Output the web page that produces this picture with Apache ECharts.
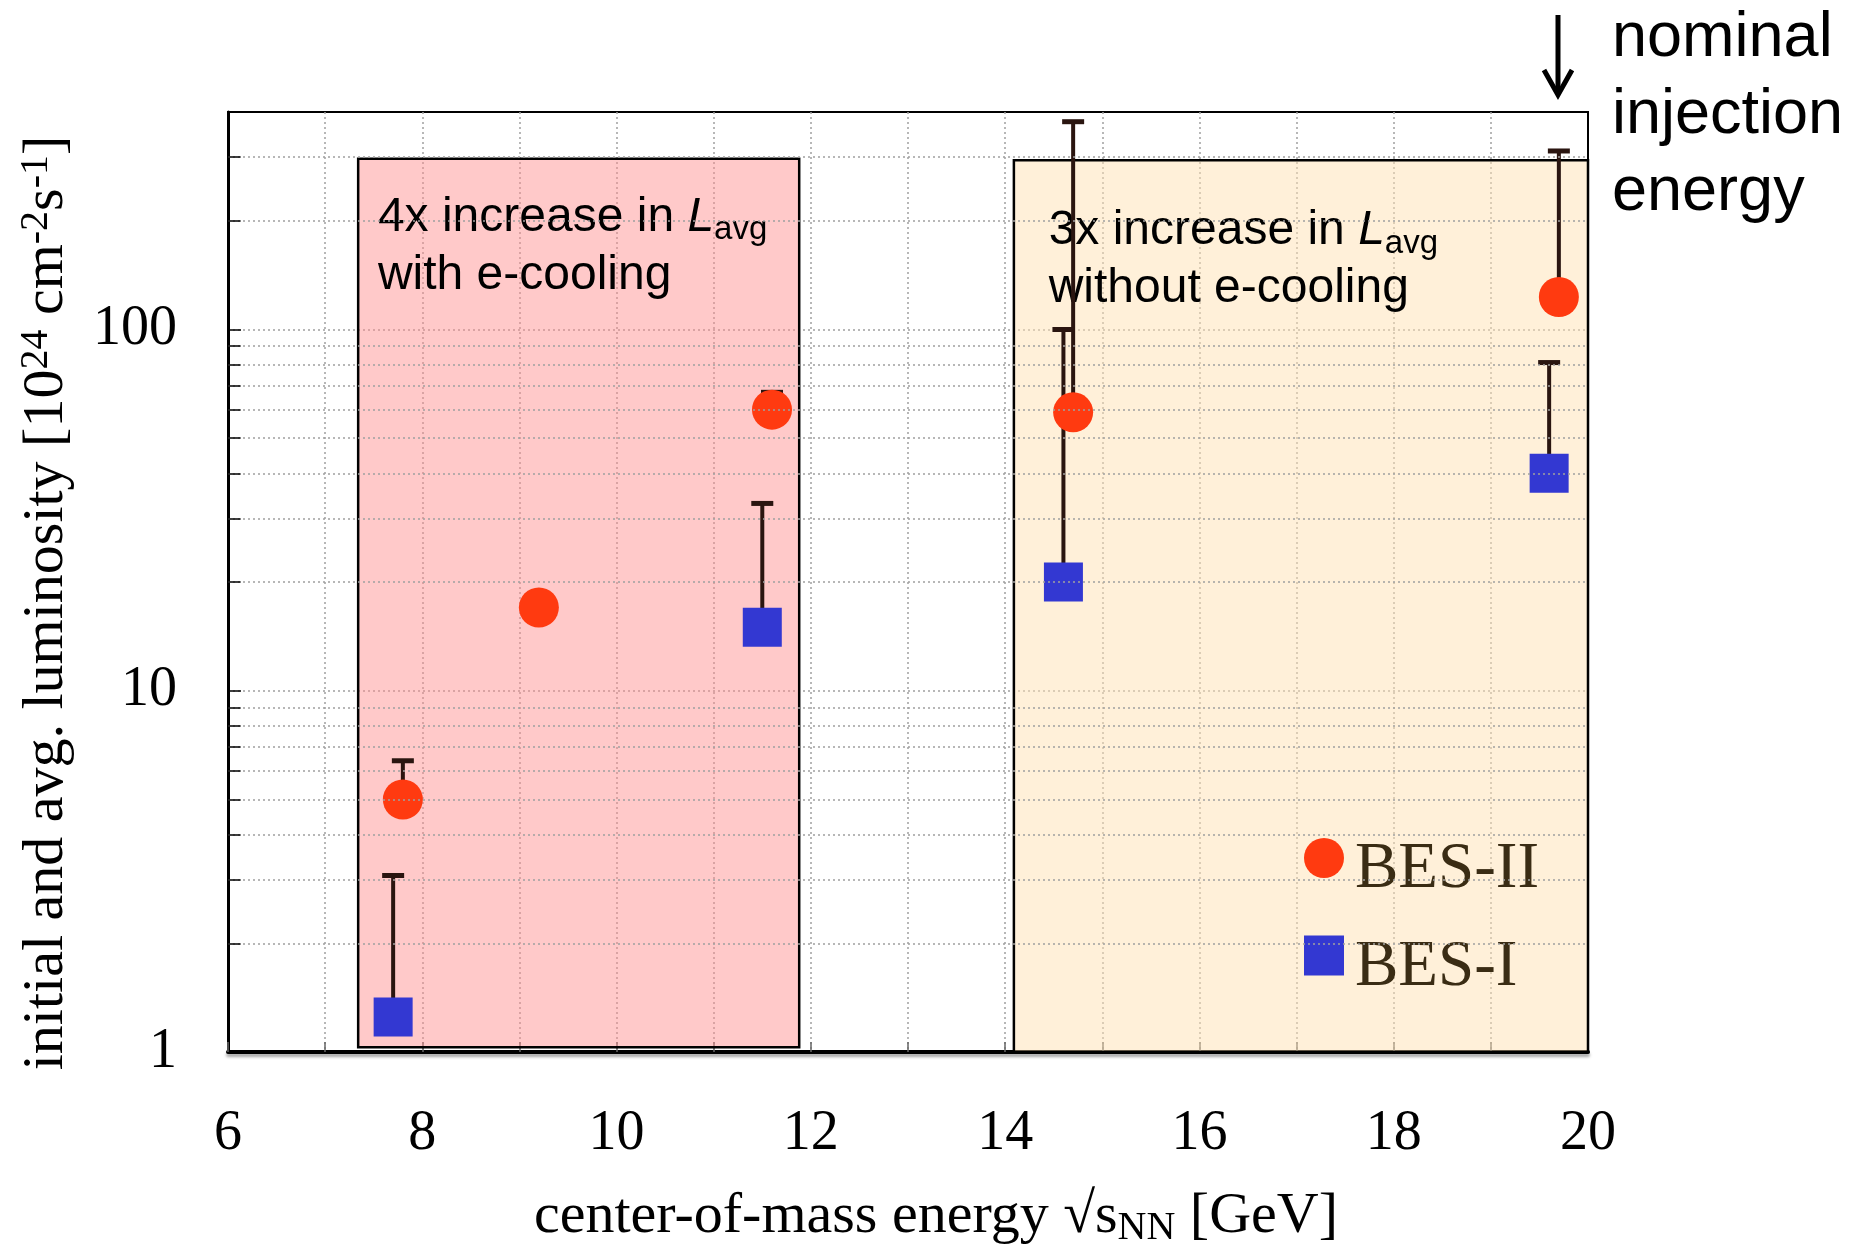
<!DOCTYPE html>
<html>
<head>
<meta charset="utf-8">
<script src="https://cdn.jsdelivr.net/npm/echarts@6/dist/echarts.min.js"></script>
<style>
html,body{margin:0;padding:0;background:#fff;}
#chart{width:1849px;height:1249px;}
</style>
</head>
<body>
<div id="chart"></div>
<script>
// ---- data ----
const besIIEnergy = [7.8, 9.2, 11.6, 14.7, 19.7];
const besIILumi = [5.0, 17, 60, 59, 123];
const besIIErrTop = [6.4, null, 67, 376, 312];

const besIEnergy = [7.7, 11.5, 14.6, 19.6];
const besILumi = [1.25, 15, 20, 40];
const besIErrTop = [3.08, 33, 100, 81];

const xTickLabels = [6, 8, 10, 12, 14, 16, 18, 20];
const yTickLabels = [1, 10, 100];
const yMinorGrid = [2, 3, 4, 5, 6, 7, 8, 9, 20, 30, 40, 50, 60, 70, 80, 90, 200, 300];

const coolingRegionX = [7.34, 11.88];
const coolingRegionY = [1.03, 297];
const noCoolingRegionX = [14.09, 20.05];
const noCoolingRegionY = [1.0, 294];

const seriesNames = ['BES-II', 'BES-I'];

// ---- chart ----
const chart = echarts.init(document.getElementById('chart'), null, {renderer: 'canvas'});

function errData(xs, ys, tops) {
  const out = [];
  xs.forEach((x, i) => { if (tops[i] != null) out.push([x, ys[i], tops[i]]); });
  return out;
}

function renderErr(params, api) {
  const p0 = api.coord([api.value(0), api.value(1)]);
  const p1 = api.coord([api.value(0), api.value(2)]);
  const c = '#2a1510';
  return {
    type: 'group',
    children: [
      {type: 'line', shape: {x1: p0[0], y1: p0[1], x2: p1[0], y2: p1[1]}, style: {stroke: c, lineWidth: 4}},
      {type: 'line', shape: {x1: p1[0] - 11, y1: p1[1], x2: p1[0] + 11, y2: p1[1]}, style: {stroke: c, lineWidth: 5}}
    ]
  };
}

const serif = '"Liberation Serif", "Times New Roman", serif';
const sans = '"Liberation Sans", Arial, sans-serif';

const boxRich = {
  t: {fontFamily: sans, fontSize: 48, color: '#000', lineHeight: 58},
  i: {fontFamily: sans, fontSize: 48, fontStyle: 'italic', color: '#000', lineHeight: 58},
  s: {fontFamily: sans, fontSize: 33, color: '#000', lineHeight: 36, verticalAlign: 'bottom'}
};

const gridLine = {color: '#a0a0a0', width: 1.5, type: [2, 3]};

const option = {
  backgroundColor: '#fff',
  animation: false,
  grid: {
    left: 228, right: 261, top: 112, bottom: 197,
    containLabel: false, outerBoundsMode: 'none',
    show: true, borderColor: '#000', borderWidth: 2, backgroundColor: 'transparent'
  },
  legend: {
    data: seriesNames,
    orient: 'vertical',
    left: 1299,
    top: 812,
    itemWidth: 40,
    itemHeight: 40,
    itemGap: 12,
    selectedMode: false,
    formatter: name => '{a|' + name + '}',
    textStyle: {
      fontFamily: serif, fontSize: 65, color: '#3a2c14', lineHeight: 62, padding: [20, 0, 0, 6],
      rich: {a: {fontFamily: serif, fontSize: 65, color: '#3a2c14', lineHeight: 62, padding: [4, 0, 0, 0]}}
    }
  },
  xAxis: {
    type: 'value', min: 6, max: 20, interval: 1,
    name: '{n|center-of-mass energy √s}{sub|NN}{n| [GeV]}',
    nameLocation: 'middle', nameGap: 134,
    nameTextStyle: {
      padding: [0, 0, 0, 56],
      rich: {
        n: {fontFamily: serif, fontSize: 58, color: '#000', lineHeight: 62},
        sub: {fontFamily: serif, fontSize: 40, color: '#000', lineHeight: 30, verticalAlign: 'bottom'}
      }
    },
    axisLine: {show: true, onZero: false, lineStyle: {color: '#000', width: 4, shadowColor: 'rgba(0,0,0,0.35)', shadowOffsetY: 3, shadowBlur: 3}},
    axisTick: {show: true, inside: true, length: 10, lineStyle: {color: '#666', width: 1.5}},
    axisLabel: {
      margin: 54, fontFamily: serif, fontSize: 56, color: '#000',
      formatter: v => xTickLabels.includes(Math.round(v)) && Math.abs(v - Math.round(v)) < 1e-6 ? String(Math.round(v)) : ''
    },
    splitLine: {show: true, showMinLine: false, showMaxLine: false, lineStyle: gridLine}
  },
  yAxis: {
    type: 'log', logBase: 10, min: 1, max: 400,
    name: '{n|initial and avg. luminosity [10}{sup|24}{n| cm}{sup|-2}{n|s}{sup|-1}{n|]}',
    nameLocation: 'middle', nameGap: 150,
    nameTextStyle: {
      padding: [0, 42, 0, 0],
      rich: {
        n: {fontFamily: serif, fontSize: 58, color: '#000', lineHeight: 62},
        sup: {fontFamily: serif, fontSize: 40, color: '#000', lineHeight: 34, verticalAlign: 'top'}
      }
    },
    axisLine: {show: true, onZero: false, lineStyle: {color: '#000', width: 3}},
    axisTick: {show: true, inside: true, length: 13, lineStyle: {color: '#000', width: 1.5}},
    axisLabel: {
      margin: 51, fontFamily: serif, fontSize: 56, color: '#000', padding: [18, 0, 0, 0],
      formatter: v => {
        const r = yTickLabels.find(t => Math.abs(t - v) / t < 1e-6);
        return r != null ? String(r) : '';
      }
    },
    splitLine: {show: true, showMinLine: false, showMaxLine: false, lineStyle: gridLine}
  },
  series: [
    {
      name: 'grid-minor',
      type: 'scatter',
      data: [],
      silent: true,
      z: 1,
      markLine: {
        silent: true, symbol: 'none', animation: false,
        label: {show: false},
        lineStyle: gridLine,
        data: yMinorGrid.map(v => ({yAxis: v}))
      }
    },
    {
      name: 'tick-minor',
      type: 'scatter',
      data: [],
      silent: true,
      z: 1,
      markLine: {
        silent: true, symbol: 'none', animation: false,
        label: {show: false},
        lineStyle: {color: '#000', width: 1.5, type: 'solid'},
        data: yMinorGrid.map(v => [{coord: [6, v]}, {coord: [6.13, v]}])
      }
    },
    {
      name: 'regions',
      type: 'scatter',
      data: [],
      silent: true,
      clip: false,
      z: 2,
      markArea: {
        silent: true,
        data: [
          [
            {
              coord: [coolingRegionX[0], coolingRegionY[1]],
              itemStyle: {color: 'rgba(255,140,140,0.47)', borderColor: '#000', borderWidth: 2.5},
              label: {
                show: true, position: 'insideTopLeft', distance: 0, padding: [31, 0, 0, 21],
                formatter: '{t|4x increase in }{i|L}{s|avg}\n{t|with e-cooling}',
                rich: boxRich
              }
            },
            {coord: [coolingRegionX[1], coolingRegionY[0]]}
          ],
          [
            {
              coord: [noCoolingRegionX[0], noCoolingRegionY[1]],
              itemStyle: {color: 'rgba(255,226,180,0.5)', borderColor: '#000', borderWidth: 2.5},
              label: {
                show: true, position: 'insideTopLeft', distance: 0, padding: [43, 0, 0, 36],
                formatter: '{t|3x increase in }{i|L}{s|avg}\n{t|without e-cooling}',
                rich: boxRich
              }
            },
            {coord: [noCoolingRegionX[1], noCoolingRegionY[0]]}
          ]
        ]
      }
    },
    {
      name: 'err-II',
      type: 'custom',
      z: 3,
      renderItem: renderErr,
      encode: {x: 0, y: [1, 2]},
      data: errData(besIIEnergy, besIILumi, besIIErrTop)
    },
    {
      name: 'err-I',
      type: 'custom',
      z: 3,
      renderItem: renderErr,
      encode: {x: 0, y: [1, 2]},
      data: errData(besIEnergy, besILumi, besIErrTop)
    },
    {
      name: seriesNames[0],
      type: 'scatter',
      z: 4,
      symbol: 'circle',
      symbolSize: 40,
      itemStyle: {color: '#ff3a10', opacity: 1},
      data: besIIEnergy.map((x, i) => [x, besIILumi[i]])
    },
    {
      name: seriesNames[1],
      type: 'scatter',
      z: 4,
      symbol: 'rect',
      symbolSize: 39,
      itemStyle: {color: '#3338d2', opacity: 1},
      data: besIEnergy.map((x, i) => [x, besILumi[i]])
    }
  ],
  graphic: [
    {
      type: 'text', x: 1612, y: 0, z: 10,
      style: {text: 'nominal\ninjection\nenergy', fontFamily: sans, fontSize: 63, fill: '#000', lineHeight: 77, textVerticalAlign: 'top'}
    },
    {type: 'line', z: 10, shape: {x1: 1558, y1: 15, x2: 1558, y2: 94}, style: {stroke: '#000', lineWidth: 5}},
    {type: 'polyline', z: 10, shape: {points: [[1544, 70], [1558, 95], [1572, 70]]}, style: {stroke: '#000', lineWidth: 5, fill: null}}
  ]
};

chart.setOption(option);
</script>
</body>
</html>
